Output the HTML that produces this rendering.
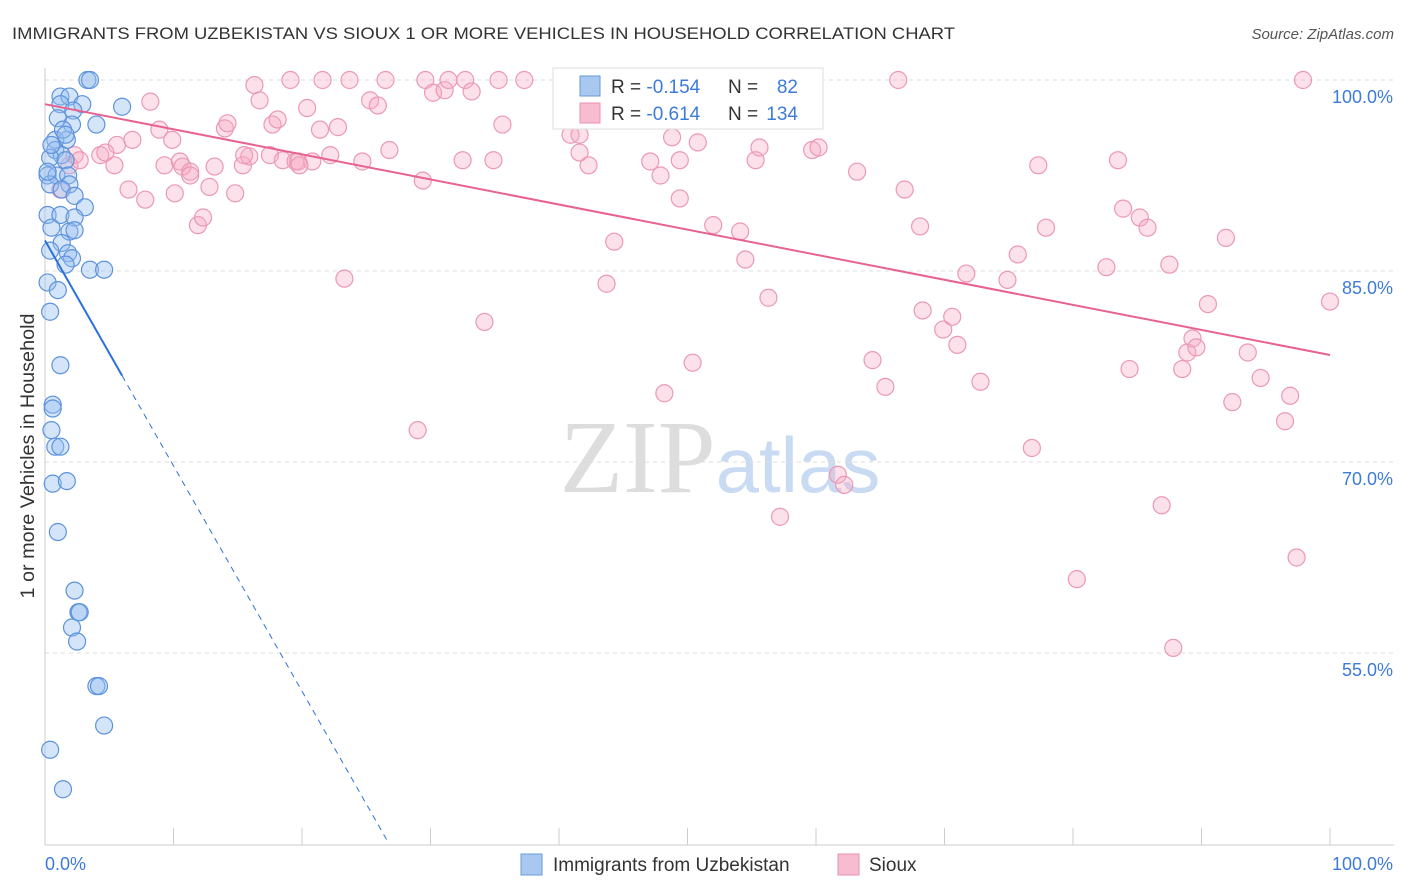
<!DOCTYPE html>
<html><head><meta charset="utf-8"><style>
body{margin:0;background:#fff;font-family:"Liberation Sans",sans-serif;}
svg{display:block}
</style></head><body>
<svg id="chart" width="1406" height="892">
<text x="12" y="39" font-size="17" fill="#333" textLength="943" lengthAdjust="spacingAndGlyphs">IMMIGRANTS FROM UZBEKISTAN VS SIOUX 1 OR MORE VEHICLES IN HOUSEHOLD CORRELATION CHART</text>
<text x="1394" y="39" font-size="15" fill="#555" font-style="italic" text-anchor="end">Source: ZipAtlas.com</text>
<text x="720" y="492" font-size="104" fill="#ddd" text-anchor="middle" font-family="Liberation Serif,serif">ZIP<tspan fill="#c9dbf2" font-family="Liberation Sans,sans-serif" font-size="78">atlas</tspan></text>
<g id="grid"></g><g id="axes"></g><g id="pts"></g><g id="trend"></g>
<text transform="translate(34,456) rotate(-90)" font-size="19" fill="#333" text-anchor="middle" textLength="285" lengthAdjust="spacingAndGlyphs">1 or more Vehicles in Household</text>
<g>
<rect x="553" y="68" width="270" height="61" fill="#fff" stroke="#ddd"/>
<rect x="580" y="76" width="20" height="20" fill="#a8c8f0" stroke="#6a9ad8"/>
<rect x="580" y="103" width="20" height="20" fill="#f7bccf" stroke="#e890b0"/>
<text x="611" y="93" font-size="19" fill="#333">R = <tspan fill="#3d7bd9">-0.154</tspan></text>
<text x="728" y="93" font-size="19" fill="#333">N =</text>
<text x="798" y="93" font-size="19" fill="#3d7bd9" text-anchor="end">82</text>
<text x="611" y="120" font-size="19" fill="#333">R = <tspan fill="#3d7bd9">-0.614</tspan></text>
<text x="728" y="120" font-size="19" fill="#333">N =</text>
<text x="798" y="120" font-size="19" fill="#3d7bd9" text-anchor="end">134</text>
</g>
<g>
<rect x="521" y="854" width="21" height="21" fill="#a8c8f0" stroke="#6a9ad8"/>
<text x="553" y="871" font-size="19" fill="#333">Immigrants from Uzbekistan</text>
<rect x="838" y="854" width="21" height="21" fill="#f7bccf" stroke="#e890b0"/>
<text x="869" y="871" font-size="19" fill="#333">Sioux</text>
</g>
</svg>
<script>
const yTicks=[55,70,85,100];
const xTickLabels=["0.0%","100.0%"];
const blueX=[3.3,3.5,1.2,1.9,2.9,6.0,1.2,2.2,1.0,2.1,4.0,0.8,1.7,0.8,1.3,0.4,1.6,0.2,0.9,1.8,0.4,1.9,1.3,2.3,3.1,0.2,1.2,2.3,0.5,1.9,2.3,1.3,0.4,1.8,2.1,1.6,3.5,4.6,0.2,1.0,0.4,1.2,0.6,0.6,0.5,0.8,1.2,0.6,1.7,1.0,2.3,2.6,2.7,2.1,2.5,4.0,4.2,4.6,0.4,1.4,0.2,0.5,1.4,1.6];
const blueY=[100,100,98.7,98.7,98.1,97.9,98.1,97.6,97.0,96.5,96.5,95.3,95.3,94.5,94.1,93.9,93.7,92.5,92.5,92.5,91.8,91.8,91.4,90.9,90.0,89.4,89.4,89.2,88.4,88.1,88.2,87.2,86.6,86.4,86.0,85.5,85.1,85.1,84.1,83.5,81.8,77.6,74.5,74.2,72.5,71.2,71.2,68.3,68.5,64.5,59.9,58.2,58.2,57.0,55.9,52.4,52.4,49.3,47.4,44.3,92.8,94.9,96.1,95.7];
const pinkX=[1.2,1.9,2.3,2.7,4.3,5.4,5.6,6.5,6.8,7.8,8.2,8.9,9.3,9.9,10.5,10.7,11.3,11.9,12.3,12.8,13.2,14.0,14.2,14.8,15.4,15.9,16.3,16.7,17.5,17.7,18.1,18.5,19.1,19.5,19.7,20.4,20.8,21.4,21.6,22.2,22.8,23.3,23.7,24.7,25.3,25.9,26.5,26.8,29.0,29.4,29.6,30.2,31.1,31.4,32.5,32.7,33.2,34.2,34.9,35.3,35.6,37.3,40.9,41.6,42.3,43.7,44.3,47.1,47.9,48.2,48.8,49.4,50.4,50.8,52.0,54.1,54.5,55.3,55.6,56.3,57.2,59.7,60.2,61.7,62.2,63.2,64.4,65.4,66.4,66.9,68.1,68.3,69.9,70.6,71.0,71.7,72.8,74.9,75.7,76.8,77.3,77.9,80.3,82.6,83.5,83.9,84.4,85.2,85.8,86.9,87.5,87.8,88.5,88.9,89.3,89.6,90.5,91.9,92.4,93.6,94.6,96.5,96.9,97.4,97.9,100,41.6,49.4,19.8,11.3,15.5,10.1,4.7];
const pinkY=[91.4,93.3,94.1,93.7,94.1,93.3,94.9,91.4,95.3,90.6,98.3,96.1,93.3,95.3,93.6,93.2,92.8,88.6,89.2,91.6,93.2,96.2,96.6,91.1,93.3,94.0,99.6,98.4,94.1,96.5,96.9,93.7,100,93.6,93.6,97.8,93.6,96.1,100,94.1,96.3,84.4,100,93.6,98.4,98.0,100,94.5,72.5,92.1,100,99.0,99.2,100,93.7,100,99.1,81.0,93.7,100,96.5,100,95.7,94.3,93.3,84.0,87.3,93.6,92.5,75.4,95.5,90.7,77.8,95.1,88.6,88.1,85.9,93.7,94.7,82.9,65.7,94.5,94.7,69.0,68.2,92.8,78.0,75.9,100,91.4,88.5,81.9,80.4,81.4,79.2,84.8,76.3,84.3,86.3,71.1,93.3,88.4,60.8,85.3,93.7,89.9,77.3,89.2,88.4,66.6,85.5,55.4,77.3,78.6,79.7,79.0,82.4,87.6,74.7,78.6,76.6,73.2,75.2,62.5,100,82.6,95.7,93.7,93.3,92.5,94.1,91.1,94.3];
const blueTrend=[87.4,-1.77];
const pinkTrend=[98.1,-0.197];
const X=v=>45+v*12.85, Y=v=>80+(100-v)*12.733;
const NS="http://www.w3.org/2000/svg";
function mk(t,p,a){const e=document.createElementNS(NS,t);for(const k in a)e.setAttribute(k,a[k]);p.appendChild(e);return e;}
const grid=document.getElementById('grid'),axes=document.getElementById('axes'),pts=document.getElementById('pts'),tr=document.getElementById('trend');
yTicks.forEach(v=>{
 const l=mk('line',grid,{x1:45,x2:1394,y1:Y(v),y2:Y(v),stroke:'#ddd','stroke-dasharray':'4,4'});
 
 
 const t=mk('text',axes,{x:1393,y:Y(v)+23,'font-size':18,fill:'#3d7bd9','text-anchor':'end'});
 t.textContent=v.toFixed(1)+'%';
 
 
});
const ax=mk('line',axes,{x1:45,x2:1394,y1:845,y2:845,stroke:'#ccc'});


const ay=mk('line',axes,{x1:45,x2:45,y1:68,y2:845,stroke:'#ccc'});


for(let i=0;i<=10;i++){const t=mk('line',axes,{x1:X(i*10),x2:X(i*10),y1:828,y2:845,stroke:'#ccc'});
 
 }
[[0,'start',45],[100,'end',1393]].forEach((d,i)=>{const t=mk('text',axes,{x:d[2],y:870,'font-size':18,fill:'#3d7bd9','text-anchor':d[1]});t.textContent=xTickLabels[i];
 
 });
pinkX.forEach((x,i)=>{const c=mk('circle',pts,{cx:X(x),cy:Y(pinkY[i]),r:8.5,fill:'rgba(245,170,196,0.35)',stroke:'#eb98b6','stroke-width':1.2});
 
 });
blueX.forEach((x,i)=>{const c=mk('circle',pts,{cx:X(x),cy:Y(blueY[i]),r:8.5,fill:'rgba(150,190,240,0.4)',stroke:'#5d93dc','stroke-width':1.2});
 
 });
const bEnd=6, bZero=(40-blueTrend[0])/blueTrend[1];
const b1=mk('line',tr,{x1:X(0),y1:Y(blueTrend[0]),x2:X(bEnd),y2:Y(blueTrend[0]+blueTrend[1]*bEnd),stroke:'#2a72d9','stroke-width':2});


const b2=mk('line',tr,{x1:X(bEnd),y1:Y(blueTrend[0]+blueTrend[1]*bEnd),x2:X(bZero),y2:Y(40),stroke:'#2a72d9','stroke-width':1,'stroke-dasharray':'6,5'});


const p1=mk('line',tr,{x1:X(0),y1:Y(pinkTrend[0]),x2:X(100),y2:Y(pinkTrend[0]+pinkTrend[1]*100),stroke:'#e8628f','stroke-width':2});


</script>
</body></html>
